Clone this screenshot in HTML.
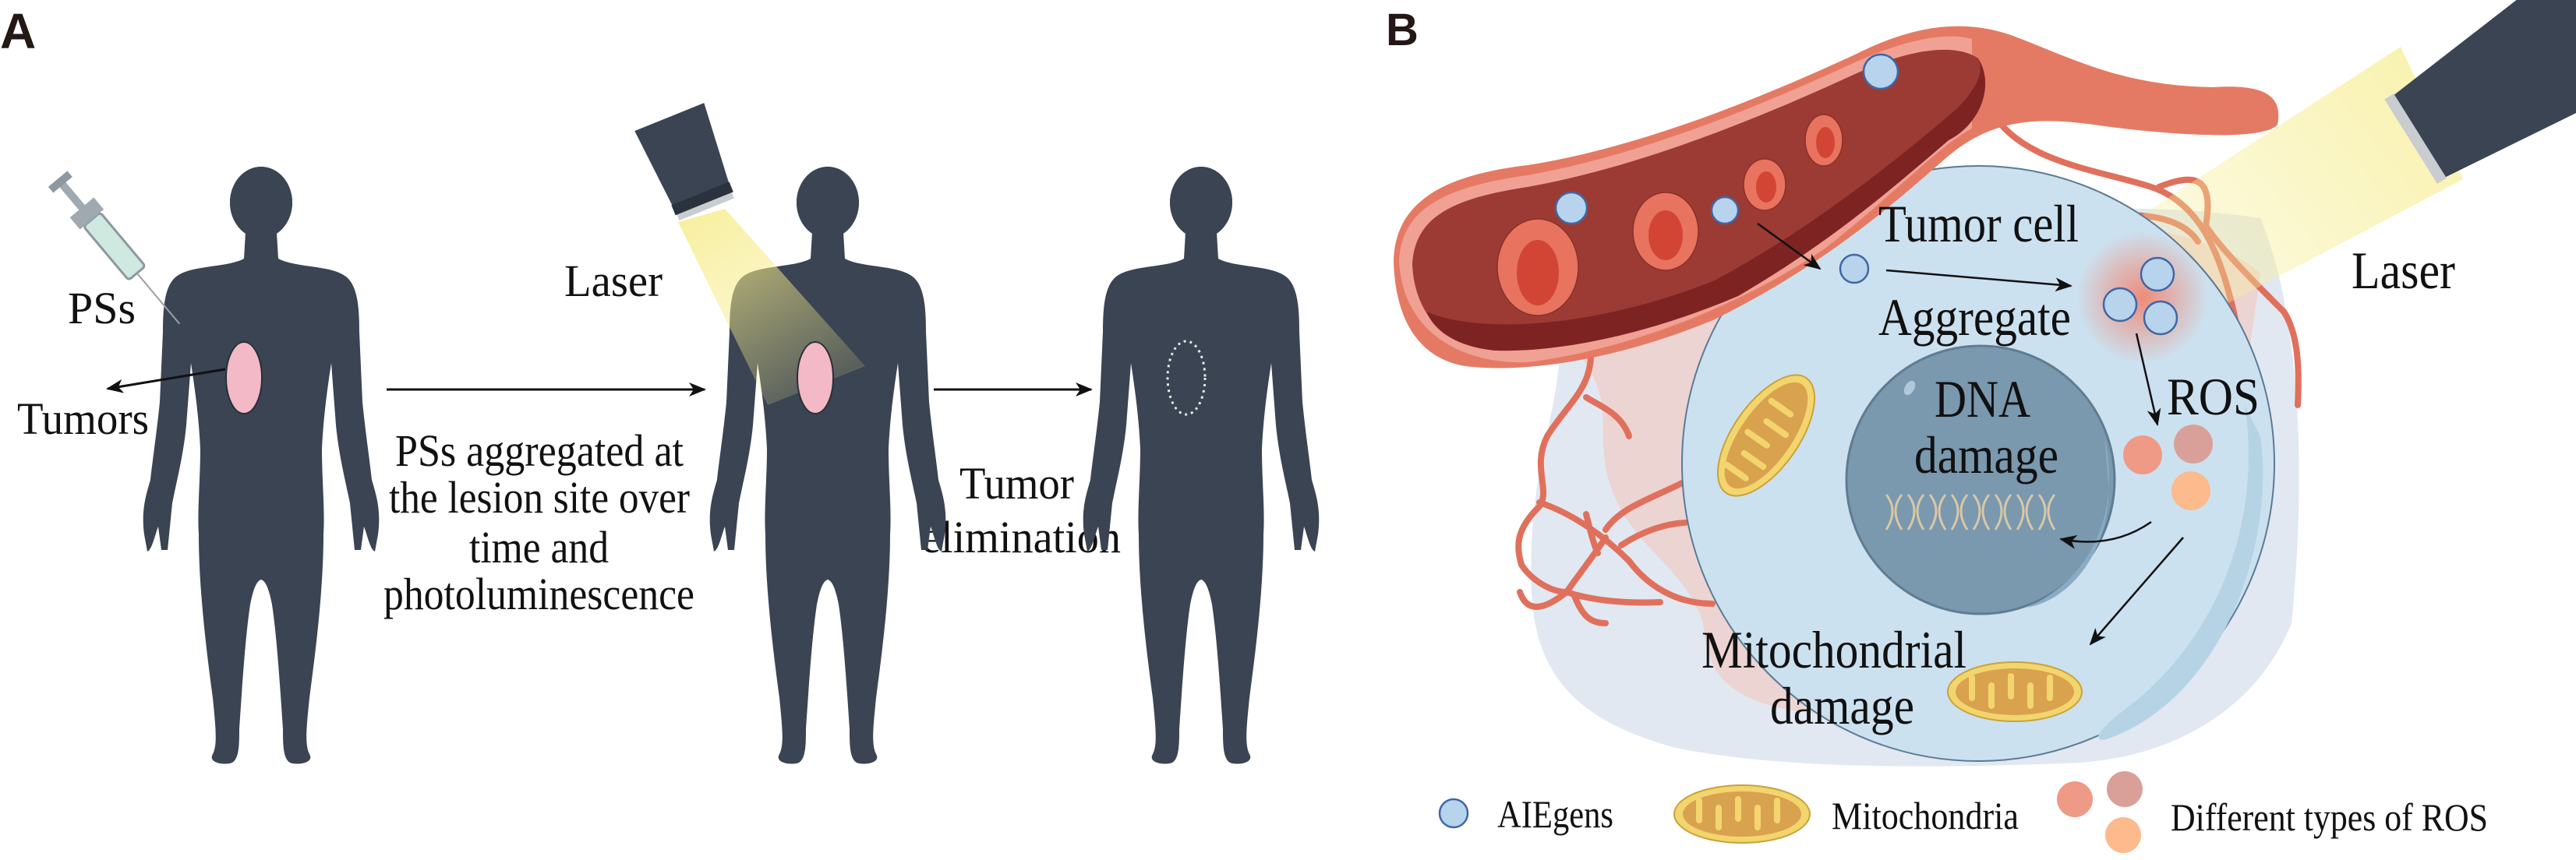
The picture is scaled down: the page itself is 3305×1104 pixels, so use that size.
<!DOCTYPE html>
<html><head><meta charset="utf-8"><style>
html,body{margin:0;padding:0;background:#fff;}
svg{display:block;}
text{font-family:"Liberation Serif",serif;fill:#111;}
</style></head><body>
<svg width="3305" height="1104" viewBox="0 0 3305 1104" xmlns="http://www.w3.org/2000/svg">
<defs>
<marker id="ah2" markerWidth="22" markerHeight="22" refX="20" refY="11" orient="auto" markerUnits="userSpaceOnUse" viewBox="0 0 22 22">
<path d="M0,2 L22,11 L0,20 L6,11 Z" fill="#111"/></marker>
<g id="half">
<ellipse cx="0" cy="44" rx="40" ry="46" fill="#3a4453"/>
<path d="M0,80 L20,82 L22,116 C44,128 92,124 110,140 C124,152 126,180 126,210 L130,300 C134,340 140,380 142,400 C148,420 154,440 150,470 L146,492 C140,490 136,470 132,460 L128,490 L120,490 L114,430 C108,400 100,370 96,330 L90,250 C84,290 80,320 78,360 C78,400 82,440 80,470 C80,540 70,620 62,680 C58,720 56,740 62,752 C68,762 52,766 40,764 C28,762 28,740 28,720 C24,660 20,600 14,560 C10,540 6,530 0,528 Z" fill="#3a4453"/>
</g>
<radialGradient id="glow"><stop offset="0" stop-color="#f2826e" stop-opacity="0.9"/><stop offset="1" stop-color="#f2826e" stop-opacity="0"/></radialGradient>
<linearGradient id="beamA" x1="0" y1="0" x2="0.6" y2="1"><stop offset="0" stop-color="#f6ec8a"/><stop offset="1" stop-color="#f6ec8a" stop-opacity="0.2"/></linearGradient>
<linearGradient id="beamB" x1="1" y1="0" x2="0" y2="0.6"><stop offset="0" stop-color="#f7ef9a"/><stop offset="1" stop-color="#f7ef9a" stop-opacity="0.3"/></linearGradient>
</defs>

<text x="0" y="62" style="font-family:'Liberation Sans',sans-serif;font-weight:bold;font-size:64px;fill:#231815">A</text>

<g transform="translate(335,216)"><use href="#half"/><use href="#half" transform="scale(-1,1)"/></g>
<ellipse cx="313" cy="485" rx="23" ry="46" fill="#f3b9c6" stroke="#2a2f38" stroke-width="2"/>
<g transform="translate(150,320) rotate(50)">
<line x1="40" y1="0" x2="125" y2="0" stroke="#9aa0a6" stroke-width="2"/>
<rect x="-50" y="-14" width="90" height="28" rx="4" fill="#cfe9e0" stroke="#8e98a0" stroke-width="3"/>
<rect x="-70" y="-20" width="20" height="40" fill="#a0a8b0"/>
<rect x="-110" y="-5" width="42" height="10" fill="#a0a8b0"/>
<rect x="-118" y="-16" width="10" height="32" fill="#8e98a0"/>
</g>
<g font-size="58" lengthAdjust="spacingAndGlyphs">
<text x="87" y="415" textLength="87" lengthAdjust="spacingAndGlyphs">PSs</text>
<text x="22" y="557" textLength="169" lengthAdjust="spacingAndGlyphs">Tumors</text>
<text x="507" y="598" textLength="370" lengthAdjust="spacingAndGlyphs">PSs aggregated at</text>
<text x="499" y="658" textLength="386" lengthAdjust="spacingAndGlyphs">the lesion site over</text>
<text x="602" y="722" textLength="179" lengthAdjust="spacingAndGlyphs">time and</text>
<text x="492" y="782" textLength="399" lengthAdjust="spacingAndGlyphs">photoluminescence</text>
<text x="724" y="380" textLength="126" lengthAdjust="spacingAndGlyphs">Laser</text>
<text x="1231" y="640" textLength="147" lengthAdjust="spacingAndGlyphs">Tumor</text>
<text x="1182" y="709" textLength="256" lengthAdjust="spacingAndGlyphs">elimination</text>
</g>
<line x1="289" y1="474" x2="138" y2="499" stroke="#111" stroke-width="3" marker-end="url(#ah2)"/>
<line x1="496" y1="500" x2="904" y2="500" stroke="#111" stroke-width="3" marker-end="url(#ah2)"/>

<g transform="translate(1062,216)"><use href="#half"/><use href="#half" transform="scale(-1,1)"/></g>
<path d="M870,285 L930,268 L1110,470 L985,520 Z" fill="url(#beamA)" opacity="0.85"/>
<ellipse cx="1046" cy="485" rx="23" ry="46" fill="#f3b9c6" stroke="#2a2f38" stroke-width="2"/>
<g transform="translate(885,215) rotate(-22)">
<path d="M-48,-70 L48,-70 L38,50 L-38,50 Z" fill="#3a4453"/>
<rect x="-40" y="36" width="80" height="14" fill="#2a323e"/>
<rect x="-38" y="50" width="76" height="8" fill="#c9ccd0"/>
</g>

<line x1="1198" y1="500" x2="1400" y2="500" stroke="#111" stroke-width="3" marker-end="url(#ah2)"/>

<g transform="translate(1541,216)"><use href="#half"/><use href="#half" transform="scale(-1,1)"/></g>
<ellipse cx="1522" cy="485" rx="24" ry="47" fill="none" stroke="#e8e8e8" stroke-width="3" stroke-dasharray="3,5"/>

<!-- Panel B -->
<text x="1778" y="58" style="font-family:'Liberation Sans',sans-serif;font-weight:bold;font-size:58px;fill:#231815">B</text>

<path d="M2000,470 C1990,560 1960,620 1965,760 C1970,880 2040,930 2150,960 C2300,990 2500,985 2650,980 C2800,975 2900,900 2940,800 C2960,600 2950,400 2900,280 C2700,250 2500,280 2300,330 C2150,360 2040,420 2000,470 Z" fill="#e1e8f2"/>
<path d="M2030,460 C2060,380 2300,300 2520,280 C2700,270 2840,300 2900,350 C2880,500 2850,700 2800,820 C2700,900 2480,920 2320,915 C2200,900 2190,850 2185,800 C2160,720 2080,700 2060,600 C2050,540 2070,520 2030,460 Z" fill="#ecd4d3"/>
<g fill="none" stroke="#e0705c" stroke-width="8" stroke-linecap="round" stroke-linejoin="round">
<path d="M2041,457 C2040,500 2010,520 1985,560 C1965,600 1990,630 1975,650 C1945,680 1945,700 1952,725 C1965,745 1990,760 2010,760 C1985,780 1960,790 1950,760"/>
<path d="M2035,510 C2050,520 2080,530 2090,560"/>
<path d="M1975,645 C2020,660 2060,690 2090,720 C2120,760 2160,775 2197,775"/>
<path d="M2060,680 C2080,650 2120,640 2162,618"/>
<path d="M2080,700 C2110,680 2140,672 2162,671"/>
<path d="M2035,660 C2040,680 2045,700 2050,710"/>
<path d="M2010,760 C2040,770 2080,775 2130,773"/>
<path d="M2020,765 C2030,790 2040,800 2060,800"/>
<path d="M2060,690 C2040,720 2020,745 2010,760"/>
<path d="M2560,150 C2600,210 2700,220 2760,240 C2820,260 2850,320 2870,420 C2880,470 2880,500 2880,520"/>
<path d="M2770,240 C2820,220 2840,230 2830,290 C2850,320 2890,360 2930,400 C2950,430 2950,480 2948,520"/>
<path d="M2690,280 C2750,270 2800,280 2820,310"/>
</g>
<path d="M3080,60 L3160,230 L2800,420 L2680,320 Z" fill="url(#beamB)" opacity="0.85"/>
<ellipse cx="2538" cy="595" rx="380" ry="382" fill="#cce1ef" stroke="#5c7a94" stroke-width="2"/>
<path d="M2880,520 C2900,650 2860,800 2740,900 C2700,930 2680,950 2700,950 C2850,900 2920,700 2900,560 Z" fill="#b6d3e6"/>
<circle cx="2749" cy="382" r="85" fill="url(#glow)"/>
<path d="M1788,335 C1790,260 1850,225 1960,212 C2100,190 2250,130 2380,70 C2460,30 2520,25 2580,45 C2660,75 2720,110 2840,112 C2900,108 2930,120 2922,160 C2905,180 2800,175 2700,162 C2620,150 2560,150 2500,200 C2420,270 2340,340 2200,410 C2080,460 1960,480 1880,470 C1820,460 1790,410 1788,335 Z" fill="#e57a64"/>
<path d="M1795,335 C1798,270 1850,240 1960,225 C2100,200 2250,140 2380,80 C2450,48 2500,42 2530,50 L2530,165 C2490,185 2430,250 2340,320 C2220,400 2080,450 1960,465 C1880,468 1800,430 1795,335 Z" fill="#f0a193"/>
<path d="M1812,340 C1815,280 1860,255 1960,240 C2100,215 2250,155 2380,95 C2450,62 2510,55 2538,75 C2560,110 2540,160 2500,180 C2430,240 2350,310 2230,380 C2100,435 1990,452 1920,450 C1850,445 1815,400 1812,340 Z" fill="#9c3b34"/>
<path d="M1830,400 C1900,430 2050,420 2200,360 C2330,290 2440,200 2510,140 C2540,110 2545,90 2538,75 C2560,110 2540,160 2500,180 C2430,240 2350,310 2230,380 C2100,435 1990,452 1920,450 C1870,446 1840,425 1830,400 Z" fill="#7d2423"/>
<g stroke="#8a3028" stroke-width="1.5">
<ellipse cx="1973" cy="343" rx="52" ry="62" fill="#e8735e"/><ellipse cx="1973" cy="350" rx="27" ry="42" fill="#d24535" stroke="none"/>
<ellipse cx="2137" cy="297" rx="42" ry="50" fill="#e8735e"/><ellipse cx="2137" cy="302" rx="22" ry="32" fill="#d24535" stroke="none"/>
<ellipse cx="2264" cy="237" rx="27" ry="33" fill="#e8735e"/><ellipse cx="2266" cy="240" rx="13" ry="20" fill="#d24535" stroke="none"/>
<ellipse cx="2340" cy="180" rx="24" ry="33" fill="#e8735e"/><ellipse cx="2342" cy="183" rx="12" ry="20" fill="#d24535" stroke="none"/>
</g>
<g fill="#b7d4ec" stroke="#3f66a6" stroke-width="2.5">
<circle cx="2413" cy="92" r="22"/>
<circle cx="2016" cy="267" r="20"/>
<circle cx="2213" cy="270" r="17"/>
<circle cx="2379" cy="345" r="18"/>
<circle cx="2768" cy="352" r="21"/>
<circle cx="2720" cy="391" r="21"/>
<circle cx="2772" cy="408" r="21"/>
</g>
<circle cx="2541" cy="616" r="172" fill="#7a98ae" stroke="#5f7c92" stroke-width="3"/>
<path d="M2700,560 C2720,650 2690,740 2600,780 C2660,770 2710,700 2705,620 Z" fill="#89acc6"/>
<ellipse cx="2450" cy="498" rx="6" ry="10" fill="#b0c8da" transform="rotate(30 2450 498)"/>
<g fill="none" stroke="#d8c7a6" stroke-width="3">
<path d="M2420,635 Q2436,655 2420,680 M2440,635 Q2424,655 2440,680 M2448,635 Q2464,655 2448,680 M2468,635 Q2452,655 2468,680 M2476,635 Q2492,655 2476,680 M2496,635 Q2480,655 2496,680 M2504,635 Q2520,655 2504,680 M2524,635 Q2508,655 2524,680 M2532,635 Q2548,655 2532,680 M2552,635 Q2536,655 2552,680 M2560,635 Q2576,655 2560,680 M2580,635 Q2564,655 2580,680 M2588,635 Q2604,655 2588,680 M2608,635 Q2592,655 2608,680 M2616,635 Q2632,655 2616,680 M2636,635 Q2620,655 2636,680"/>
</g>
<g transform="translate(2266,559) rotate(-55)">
<ellipse rx="90" ry="42" fill="#f3d56e" stroke="#c9a23a" stroke-width="2"/>
<ellipse rx="80" ry="33" fill="#d9a24e"/>
<path d="M-60,-20 L-60,10 M-35,20 L-35,-10 M-10,-22 L-10,8 M15,20 L15,-10 M40,-20 L40,10" stroke="#f3d56e" stroke-width="8" stroke-linecap="round"/>
</g>
<g transform="translate(2585,888)">
<ellipse rx="86" ry="38" fill="#f3d56e" stroke="#c9a23a" stroke-width="2"/>
<ellipse rx="76" ry="30" fill="#d9a24e"/>
<path d="M-55,-18 L-55,8 M-30,18 L-30,-8 M-5,-20 L-5,6 M20,18 L20,-8 M45,-18 L45,8" stroke="#f3d56e" stroke-width="8" stroke-linecap="round"/>
</g>
<circle cx="2749" cy="584" r="25" fill="#ef9a86"/>
<circle cx="2814" cy="570" r="25" fill="#d9a09a"/>
<circle cx="2811" cy="630" r="25" fill="#fdba8c"/>
<g transform="translate(3200,115) rotate(-32)">
<path d="M-115,-62 L160,-90 L160,90 L-115,62 Z" fill="#3a4453"/>
<rect x="-126" y="-64" width="14" height="128" fill="#c9ccd0"/>
</g>
<g stroke="#111" stroke-width="2.5" fill="none">
<line x1="2255" y1="287" x2="2335" y2="345" marker-end="url(#ah2)"/>
<line x1="2420" y1="347" x2="2657" y2="367" marker-end="url(#ah2)"/>
<line x1="2741" y1="428" x2="2768" y2="545" marker-end="url(#ah2)"/>
<path d="M2760,670 Q2710,705 2644,692" marker-end="url(#ah2)"/>
<line x1="2801" y1="690" x2="2682" y2="827" marker-end="url(#ah2)"/>
</g>
<g font-size="68">
<text x="2410" y="310" textLength="257" lengthAdjust="spacingAndGlyphs">Tumor cell</text>
<text x="2410" y="430" textLength="247" lengthAdjust="spacingAndGlyphs">Aggregate</text>
<text x="2780" y="532" textLength="119" lengthAdjust="spacingAndGlyphs">ROS</text>
<text x="3017" y="370" textLength="133" lengthAdjust="spacingAndGlyphs">Laser</text>
<text x="2482" y="535" textLength="123" lengthAdjust="spacingAndGlyphs">DNA</text>
<text x="2456" y="607" textLength="185" lengthAdjust="spacingAndGlyphs">damage</text>
<text x="2183" y="857" textLength="340" lengthAdjust="spacingAndGlyphs">Mitochondrial</text>
<text x="2271" y="929" textLength="185" lengthAdjust="spacingAndGlyphs">damage</text>
</g>
<circle cx="1865" cy="1044" r="18" fill="#b7d4ec" stroke="#3f66a6" stroke-width="2.5"/>
<g transform="translate(2235,1045)">
<ellipse rx="87" ry="37" fill="#f3d56e" stroke="#c9a23a" stroke-width="2"/>
<ellipse rx="76" ry="29" fill="#d9a24e"/>
<path d="M-55,-17 L-55,8 M-30,17 L-30,-8 M-5,-19 L-5,6 M20,17 L20,-8 M45,-17 L45,8" stroke="#f3d56e" stroke-width="8" stroke-linecap="round"/>
</g>
<circle cx="2662" cy="1026" r="23" fill="#ef9a86"/>
<circle cx="2726" cy="1013" r="23" fill="#d9a09a"/>
<circle cx="2724" cy="1072" r="23" fill="#fdba8c"/>
<g font-size="50">
<text x="1921" y="1062" textLength="149" lengthAdjust="spacingAndGlyphs">AIEgens</text>
<text x="2350" y="1064" textLength="240" lengthAdjust="spacingAndGlyphs">Mitochondria</text>
<text x="2785" y="1066" textLength="407" lengthAdjust="spacingAndGlyphs">Different types of ROS</text>
</g>
</svg>
</body></html>
